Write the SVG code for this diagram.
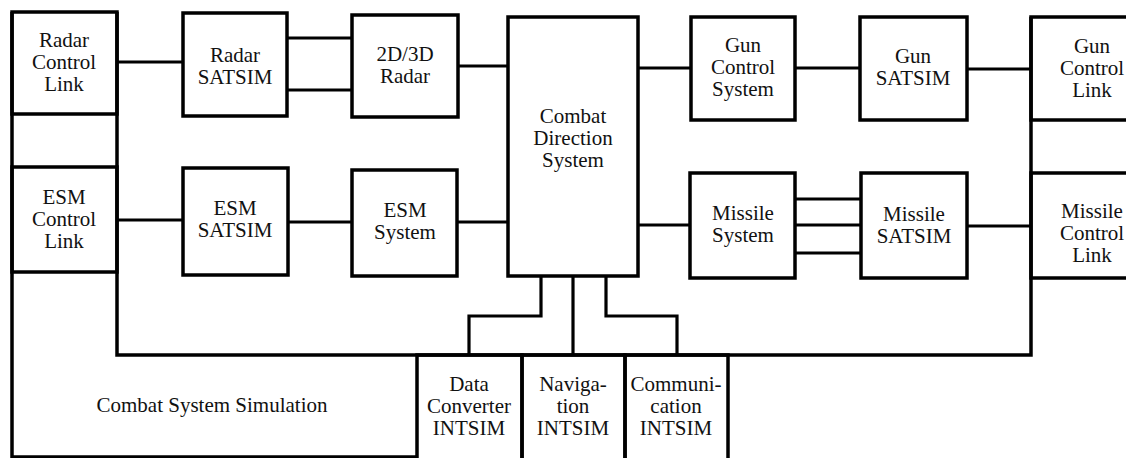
<svg xmlns="http://www.w3.org/2000/svg" width="1126" height="458" viewBox="0 0 1126 458">
<style>
.box{fill:none;stroke:#000;stroke-width:3.5}
.ln{fill:none;stroke:#000;stroke-width:3.2}
text{font-family:'Liberation Serif','DejaVu Serif','Times New Roman',serif;font-size:21px;fill:#111;text-anchor:middle}
</style>
<rect width="1126" height="458" fill="#fff"/>
<g id="combat-system-simulation">
<path class="box" d="M12,12 V457 H417"/>
<path class="box" d="M117,12 V355 H1031 V17"/>
<text x="212" y="412" font-family="Liberation Serif, serif" font-size="22">Combat System Simulation</text>
</g>
<g id="radar-control-link" font-family="Liberation Serif, serif">
<rect class="box" x="12" y="12" width="105" height="102"/>
<text x="64" y="47">Radar</text><text x="64" y="69">Control</text><text x="64" y="91">Link</text>
</g>
<g id="esm-control-link" font-family="Liberation Serif, serif">
<rect class="box" x="12" y="167" width="105" height="105"/>
<text x="64" y="204">ESM</text><text x="64" y="226">Control</text><text x="64" y="248">Link</text>
</g>
<g id="gun-control-link" font-family="Liberation Serif, serif">
<rect class="box" x="1031" y="17" width="120" height="103"/>
<text x="1092" y="53">Gun</text><text x="1092" y="75">Control</text><text x="1092" y="97">Link</text>
</g>
<g id="missile-control-link" font-family="Liberation Serif, serif">
<rect class="box" x="1031" y="173" width="120" height="105"/>
<text x="1092" y="218">Missile</text><text x="1092" y="240">Control</text><text x="1092" y="262">Link</text>
</g>
<g id="radar-satsim" font-family="Liberation Serif, serif">
<rect class="box" x="183" y="13" width="104" height="103"/>
<text x="235" y="62">Radar</text><text x="235" y="84">SATSIM</text>
</g>
<g id="radar-2d3d" font-family="Liberation Serif, serif">
<rect class="box" x="352" y="15" width="106" height="102"/>
<text x="405" y="61">2D/3D</text><text x="405" y="83">Radar</text>
</g>
<g id="combat-direction-system" font-family="Liberation Serif, serif">
<rect class="box" x="508" y="17" width="130" height="259"/>
<text x="573" y="123">Combat</text><text x="573" y="145">Direction</text><text x="573" y="167">System</text>
</g>
<g id="gun-control-system" font-family="Liberation Serif, serif">
<rect class="box" x="691" y="17" width="104" height="103"/>
<text x="743" y="52">Gun</text><text x="743" y="74">Control</text><text x="743" y="96">System</text>
</g>
<g id="gun-satsim" font-family="Liberation Serif, serif">
<rect class="box" x="860" y="17" width="107" height="103"/>
<text x="913" y="63">Gun</text><text x="913" y="85">SATSIM</text>
</g>
<g id="esm-satsim" font-family="Liberation Serif, serif">
<rect class="box" x="183" y="168" width="105" height="107"/>
<text x="235" y="215">ESM</text><text x="235" y="237">SATSIM</text>
</g>
<g id="esm-system" font-family="Liberation Serif, serif">
<rect class="box" x="352" y="170" width="105" height="106"/>
<text x="405" y="217">ESM</text><text x="405" y="239">System</text>
</g>
<g id="missile-system" font-family="Liberation Serif, serif">
<rect class="box" x="690" y="173" width="105" height="105"/>
<text x="743" y="220">Missile</text><text x="743" y="242">System</text>
</g>
<g id="missile-satsim" font-family="Liberation Serif, serif">
<rect class="box" x="861" y="173" width="106" height="105"/>
<text x="914" y="221">Missile</text><text x="914" y="243">SATSIM</text>
</g>
<g id="data-converter-intsim" font-family="Liberation Serif, serif">
<rect class="box" x="417" y="355" width="105" height="110"/>
<text x="469" y="391">Data</text><text x="469" y="413">Converter</text><text x="469" y="435">INTSIM</text>
</g>
<g id="navigation-intsim" font-family="Liberation Serif, serif">
<rect class="box" x="522" y="355" width="103" height="110"/>
<text x="573" y="391">Naviga-</text><text x="573" y="413">tion</text><text x="573" y="435">INTSIM</text>
</g>
<g id="communication-intsim" font-family="Liberation Serif, serif">
<rect class="box" x="625" y="355" width="103" height="110"/>
<text x="676" y="391">Communi-</text><text x="676" y="413">cation</text><text x="676" y="435">INTSIM</text>
</g>
<g id="connectors">
<path class="ln" d="M117,62 H183"/>
<path class="ln" d="M287,38 H352 M287,90 H352"/>
<path class="ln" d="M458,66 H508"/>
<path class="ln" d="M638,68 H691"/>
<path class="ln" d="M795,68 H860"/>
<path class="ln" d="M967,69 H1031"/>
<path class="ln" d="M117,220 H183"/>
<path class="ln" d="M288,222 H352"/>
<path class="ln" d="M457,222 H508"/>
<path class="ln" d="M638,225 H690"/>
<path class="ln" d="M795,199 H861 M795,225 H861 M795,253 H861"/>
<path class="ln" d="M967,226 H1031"/>
<path class="ln" d="M541,276 V316 H469 V355"/>
<path class="ln" d="M573,276 V355"/>
<path class="ln" d="M606,276 V316 H677 V355"/>
</g>
</svg>
